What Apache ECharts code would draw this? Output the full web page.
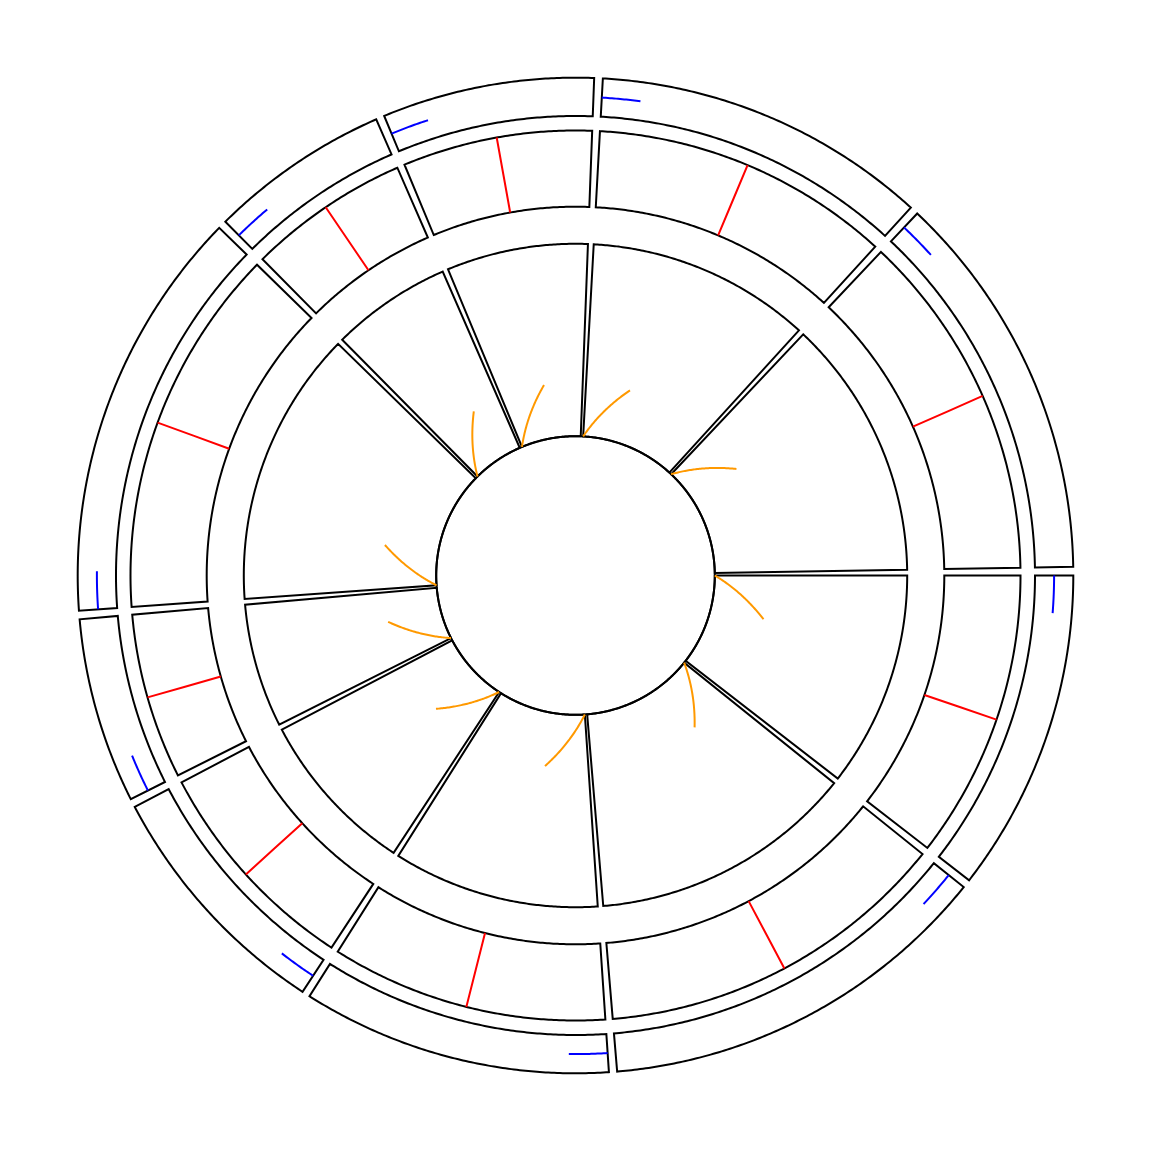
<!DOCTYPE html>
<html>
<head>
<meta charset="utf-8">
<style>
  html, body { margin: 0; padding: 0; background: #ffffff; }
  #chart { width: 1152px; height: 1152px; }
</style>
<script src="https://cdn.jsdelivr.net/npm/echarts@6/dist/echarts.min.js"></script>
</head>
<body>
<div id="chart"></div>
<script>
// ---- Data (angles in degrees, clockwise from top) ----
const sectorStarts = [3.15, 43.35, 90.0, 128.75, 176.15, 213.25, 243.3, 265.95, 315.3, 337.4];
const sectorEnds   = [42.35, 89.0, 127.75, 175.2, 212.3, 242.3, 264.95, 314.3, 336.4, 362.15];
// track radial extents (radius-axis units)
const trackInner = [139.3, 368.8, 459.5];
const trackOuter = [331.7, 445.0, 497.8];
const centerCircleRadius = 139.3;
// red radial marks in the middle track
const redAngles = [22.75, 66.2, 108.9, 152.0, 194.2, 227.8, 254.1, 290.1, 325.85, 349.8];
// blue line segments in the outer track
const blueStartAngles = [3.15, 43.35, 90.0, 128.75, 176.15, 213.25, 243.3, 265.95, 315.3, 337.4];
const blueEndAngles   = [7.8, 47.95, 94.5, 133.35, 180.8, 217.85, 247.9, 270.5, 319.9, 342.05];
const blueRadius = 478.6;
// orange lines in the inner track
const orangeStartAngles = [3.15, 43.35, 90.0, 128.75, 176.15, 213.25, 243.3, 265.95, 315.3, 337.4];
const orangeEndAngles   = [16.4, 56.5, 103.1, 141.9, 189.1, 226.3, 256.1, 279.1, 328.2, 350.6];
const orangeStartRadius = 139.3;
const orangeEndRadius = 193.0;

// ---- Build series data ----
const sectorData = [];
for (let k = 0; k < trackInner.length; k++) {
  for (let i = 0; i < sectorStarts.length; i++) {
    sectorData.push([trackInner[k], sectorStarts[i], trackOuter[k], sectorEnds[i]]);
  }
}
const redData = redAngles.map((a, i) => [trackInner[1], a, trackOuter[1], a]);
const blueData = blueStartAngles.map((a, i) => [blueRadius, a, blueRadius, blueEndAngles[i]]);
const orangeData = orangeStartAngles.map((a, i) => [orangeStartRadius, a, orangeEndRadius, orangeEndAngles[i]]);

function norm(a) { let v = a % 360; if (v < 0) v += 360; return v; }
function pathPoints(api, r0, a0, r1, a1, n) {
  const pts = [];
  for (let j = 0; j <= n; j++) {
    const t = j / n;
    pts.push(api.coord([r0 + (r1 - r0) * t, norm(a0 + (a1 - a0) * t)]));
  }
  return pts;
}

const sectorRender = function (params, api) {
  const r0 = api.value(0), a0 = api.value(1), r1 = api.value(2), a1 = api.value(3);
  const n = Math.max(8, Math.ceil((a1 - a0) * 3));
  const outer = pathPoints(api, r1, a0, r1, a1, n);
  const inner = pathPoints(api, r0, a1, r0, a0, n);
  return {
    type: 'polygon',
    shape: { points: outer.concat(inner) },
    style: { fill: 'none', stroke: '#000000', lineWidth: 2, lineJoin: 'miter' }
  };
};

function lineRender(color) {
  return function (params, api) {
    const r0 = api.value(0), a0 = api.value(1), r1 = api.value(2), a1 = api.value(3);
    const n = Math.max(2, Math.ceil(Math.abs(a1 - a0) * 4));
    return {
      type: 'polyline',
      shape: { points: pathPoints(api, r0, a0, r1, a1, n) },
      style: { fill: 'none', stroke: color, lineWidth: 2 }
    };
  };
}

const circleRender = function (params, api) {
  const r = api.value(0);
  const pts = [];
  for (let j = 0; j < 720; j++) pts.push(api.coord([r, j * 0.5]));
  return {
    type: 'polygon',
    shape: { points: pts },
    style: { fill: 'none', stroke: '#000000', lineWidth: 2 }
  };
};

const chart = echarts.init(document.getElementById('chart'), null, { renderer: 'canvas' });
chart.setOption({
  backgroundColor: '#ffffff',
  animation: false,
  polar: { center: [575.5, 575.5], radius: 497.8 },
  angleAxis: { type: 'value', min: 0, max: 360, startAngle: 90, clockwise: true, show: false },
  radiusAxis: { type: 'value', min: 0, max: 497.8, show: false },
  series: [
    { type: 'custom', coordinateSystem: 'polar', silent: true, renderItem: circleRender, data: [[centerCircleRadius, 0]] },
    { type: 'custom', coordinateSystem: 'polar', silent: true, renderItem: sectorRender, data: sectorData },
    { type: 'custom', coordinateSystem: 'polar', silent: true, renderItem: lineRender('#ff0000'), data: redData },
    { type: 'custom', coordinateSystem: 'polar', silent: true, renderItem: lineRender('#0000ff'), data: blueData },
    { type: 'custom', coordinateSystem: 'polar', silent: true, renderItem: lineRender('#ff9900'), data: orangeData }
  ]
});
</script>
</body>
</html>
